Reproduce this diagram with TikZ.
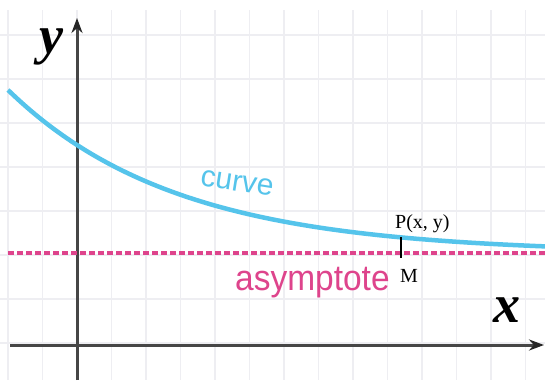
\documentclass[tikz,border=0pt]{standalone}
\usepackage{fontspec}
\setmainfont{Liberation Serif}
\newfontfamily\labsans{Liberation Sans}
\usetikzlibrary{arrows.meta}
\definecolor{gridcol}{RGB}{238,238,242}
\definecolor{axiscol}{RGB}{70,70,70}
\definecolor{curvecol}{RGB}{85,196,235}
\definecolor{asymcol}{RGB}{222,68,140}
\tikzset{
  gridline/.style={draw=gridcol, line width=1.2pt},
  axisline/.style={draw=axiscol, line width=3pt, -{Stealth[length=15pt,width=11pt,color=black!85,fill=black!85]}},
  curveline/.style={draw=curvecol, line width=4.5pt},
  asymline/.style={draw=asymcol, line width=3.5pt, dash pattern=on 6pt off 3pt},
  axislabel/.style={font=\bfseries\itshape\fontsize{54}{54}\selectfont, inner sep=0pt, text=black},
  smalllabel/.style={font=\fontsize{20}{20}\selectfont, inner sep=0pt, text=black},
  ticklineStyle/.style={draw=black, line width=1.3pt}
}
\begin{document}
\begin{tikzpicture}[x=1pt,y=-1pt]
\useasboundingbox[fill=white] (0,0) rectangle (545,380);
% grid
\foreach \i in {0,...,15} \draw[gridline] ({8+34.5*\i},10) -- ({8+34.5*\i},380);
\foreach \j in {0,...,7} \draw[gridline] (0,{35+44*\j}) -- (545,{35+44*\j});
% axes
\coordinate (ybot) at (77,380);
\coordinate (ytop) at (77,18);
\coordinate (xleft) at (10,345);
\coordinate (xright) at (544,345);
\draw[axisline] (xleft) -- (xright);
\draw[axisline] (ybot) -- (ytop);
% asymptote
\coordinate (aleft) at (8,253);
\coordinate (aright) at (545,253);
\draw[asymline] (aleft) -- (aright);
% curve
\draw[curveline] plot[domain=8:545, samples=120] (\x, {253-163*exp(-0.00597*(\x-8))});
% tick P-M
\coordinate (Ptick) at (401,237);
\coordinate (Mtick) at (401,258);
\draw[ticklineStyle] (Ptick) -- (Mtick);
% labels
\node[axislabel, anchor=base] (ylab) at (51,53) {y};
\node[axislabel, anchor=base] (xlab) at (507,322) {x};
\node[font=\labsans\fontsize{30}{30}\selectfont, text=curvecol, inner sep=0pt, rotate=-9] (curvelab) at (237,183) {curve};
\node[font=\labsans\fontsize{36}{36}\selectfont, text=asymcol, inner sep=0pt, anchor=base west, xscale=0.93] (asymlab) at (235,290) {asymptote};
\node[smalllabel, anchor=base west] (Plab) at (395,228) {P(x, y)};
\node[smalllabel, anchor=base west] (Mlab) at (400,282) {M};
\end{tikzpicture}
\end{document}
